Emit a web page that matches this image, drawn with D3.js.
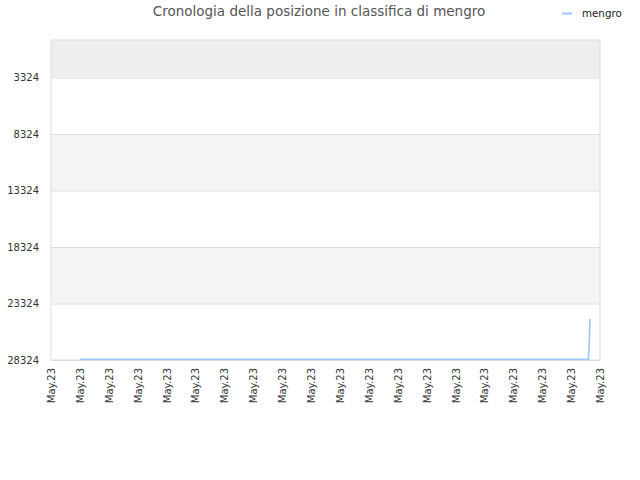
<!DOCTYPE html>
<html>
<head>
<meta charset="utf-8">
<script src="https://cdn.jsdelivr.net/npm/d3@7"></script>
<style>
  body { margin: 0; background: #fff; }
  text { font-family: "DejaVu Sans", sans-serif; }
</style>
</head>
<body>
<div id="chart"></div>
<script>
// rank history of mengro, lower rank number = better
let dates = ["2023-05-02T00:00", "2023-05-03T00:00", "2023-05-04T00:00", "2023-05-05T00:00",
  "2023-05-06T00:00", "2023-05-07T00:00", "2023-05-08T00:00", "2023-05-09T00:00",
  "2023-05-10T00:00", "2023-05-11T00:00", "2023-05-12T00:00", "2023-05-13T00:00",
  "2023-05-14T00:00", "2023-05-15T00:00", "2023-05-16T00:00", "2023-05-17T00:00",
  "2023-05-18T00:00", "2023-05-19T00:00", "2023-05-19T14:20", "2023-05-19T15:10",
  "2023-05-19T15:40"];
let ranks = [28260, 28260, 28260, 28260, 28260, 28260, 28260, 28260,
  28260, 28260, 28260, 28260, 28260, 28260, 28260, 28260,
  28260, 28260, 28260, 26550, 24700];
let yTicks = [3324, 8324, 13324, 18324, 23324, 28324];
let bandColors = ["#eeeeee", "#ffffff", "#f4f4f4", "#ffffff", "#f4f4f4", "#ffffff"];
let seriesName = "mengro";
let title = "Cronologia della posizione in classifica di mengro";

let width = 640,
    height = 480,
    margin = ({ top: 40, right: 40, bottom: 120, left: 51 });

const svg = d3.select("#chart")
  .append("svg")
  .attr("width", width)
  .attr("height", height);

let parse = d3.timeParse("%Y-%m-%dT%H:%M");
let data = dates.map((d, i) => ({ date: parse(d), rank: ranks[i] }));

let x = d3.scaleTime()
  .domain([new Date(2023, 4, 1), new Date(2023, 4, 20)])
  .range([margin.left, width - margin.right]);

let y = d3.scaleLinear()
  .domain([0, 28324])
  .range([margin.top, height - margin.bottom]);

// shaded bands between ticks
let bandEdges = [0].concat(yTicks);
svg.append("g")
  .selectAll("rect")
  .data(d3.range(yTicks.length))
  .join("rect")
  .attr("x", margin.left)
  .attr("width", x.range()[1] - margin.left)
  .attr("y", i => y(bandEdges[i]))
  .attr("height", i => y(bandEdges[i + 1]) - y(bandEdges[i]))
  .attr("fill", i => bandColors[i]);

// y axis + grid
svg.append("g")
  .attr("transform", `translate(${margin.left},0)`)
  .call(d3.axisLeft(y).tickValues(yTicks).tickFormat(d3.format("d"))
    .tickSize(-(x.range()[1] - margin.left)).tickPadding(12))
  .call(g => g.select(".domain").remove())
  .call(g => g.selectAll(".tick line").attr("stroke", "#dddddd"))
  .call(g => g.selectAll(".tick text").attr("fill", "#333").attr("font-size", 10)
    .attr("font-family", "DejaVu Sans, sans-serif"));

// frame
svg.append("rect")
  .attr("x", margin.left)
  .attr("y", margin.top)
  .attr("width", x.range()[1] - margin.left)
  .attr("height", y(28324) - margin.top)
  .attr("fill", "none")
  .attr("stroke", "#dddddd");

// x axis
svg.append("g")
  .attr("transform", `translate(0,${y(28324)})`)
  .call(d3.axisBottom(x).ticks(d3.timeDay.every(1)).tickSize(0).tickFormat(d3.timeFormat("%b.%y")))
  .call(g => g.select(".domain").remove())
  .call(g => g.selectAll(".tick text")
    .attr("fill", "#333")
    .attr("font-size", 10)
    .attr("font-family", "DejaVu Sans, sans-serif")
    .attr("text-anchor", "end")
    .attr("transform", "rotate(-90)")
    .attr("x", -8)
    .attr("y", 0)
    .attr("dy", "0.35em"));

let line = d3.line()
  .x(d => x(d.date))
  .y(d => y(d.rank));

svg.append("path")
  .datum(data)
  .attr("fill", "none")
  .attr("stroke", "#99c8f7")
  .attr("stroke-width", 1.6)
  .attr("d", line);

// title
svg.append("text")
  .attr("x", 319)
  .attr("y", 16)
  .attr("text-anchor", "middle")
  .attr("font-size", 13.5)
  .attr("fill", "#555")
  .text(title);

// legend
svg.append("line")
  .attr("x1", 562).attr("x2", 572)
  .attr("y1", 13.5).attr("y2", 13.5)
  .attr("stroke", "#99c8f7")
  .attr("stroke-width", 2);

svg.append("text")
  .attr("x", 582)
  .attr("y", 17)
  .attr("font-size", 10.3)
  .attr("fill", "#222")
  .text(seriesName);
</script>
</body>
</html>
